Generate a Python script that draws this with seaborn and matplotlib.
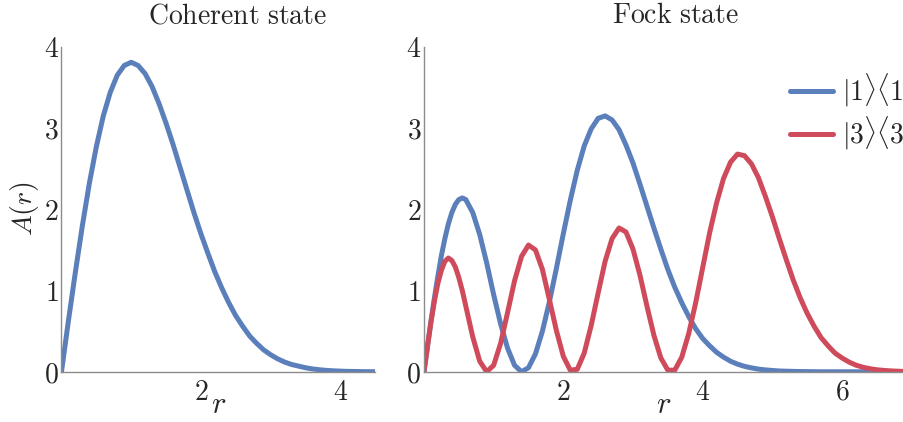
import matplotlib
matplotlib.use('Agg')
import matplotlib.pyplot as plt
import seaborn as sns

# values
r_coh = [0.0, 0.1, 0.2, 0.3, 0.4, 0.5, 0.6, 0.7, 0.8, 0.9,
         1.0, 1.1, 1.2, 1.3, 1.4, 1.5, 1.6, 1.7, 1.8, 1.9,
         2.0, 2.1, 2.2, 2.3, 2.4, 2.5, 2.6, 2.7, 2.8, 2.9,
         3.0, 3.1, 3.2, 3.3, 3.4, 3.5, 3.6, 3.7, 3.8, 3.9,
         4.0, 4.1, 4.2, 4.3, 4.4, 4.5]
a_coh = [0, 0.63, 1.23, 1.80, 2.32, 2.77, 3.15, 3.44, 3.65, 3.77,
         3.81, 3.77, 3.67, 3.51, 3.30, 3.06, 2.80, 2.52, 2.24, 1.96,
         1.70, 1.46, 1.23, 1.03, 0.85, 0.69, 0.56, 0.44, 0.35, 0.27,
         0.21, 0.16, 0.12, 0.09, 0.07, 0.05, 0.035, 0.025, 0.017, 0.012,
         0.008, 0.005, 0.004, 0.002, 0.001, 0.001]

r_fock = [0.0, 0.05, 0.1, 0.15, 0.2, 0.25, 0.3, 0.35, 0.4, 0.45, 0.5, 0.55,
          0.6, 0.7, 0.8, 0.9, 1.0, 1.1, 1.2, 1.3, 1.4, 1.5, 1.6, 1.7, 1.8, 1.9,
          2.0, 2.1, 2.2, 2.3, 2.4, 2.5, 2.6, 2.7, 2.8, 2.9,
          3.0, 3.1, 3.2, 3.3, 3.4, 3.5, 3.6, 3.7, 3.8, 3.9,
          4.0, 4.1, 4.2, 4.3, 4.4, 4.5, 4.6, 4.7, 4.8, 4.9,
          5.0, 5.1, 5.2, 5.3, 5.4, 5.5, 5.6, 5.7, 5.8, 5.9,
          6.0, 6.1, 6.2, 6.3, 6.4, 6.5, 6.6, 6.7, 6.8, 6.9]
a_fock1 = [0, 0.31, 0.62, 0.91, 1.18, 1.43, 1.64, 1.82, 1.96, 2.06, 2.12, 2.14,
           2.12, 1.96, 1.69, 1.34, 0.95, 0.59, 0.29, 0.08, 0.0, 0.05, 0.22, 0.50, 0.86, 1.27,
           1.70, 2.11, 2.48, 2.78, 2.99, 3.12, 3.15, 3.10, 2.98, 2.79,
           2.57, 2.31, 2.04, 1.77, 1.51, 1.26, 1.04, 0.85, 0.68, 0.53,
           0.41, 0.32, 0.24, 0.18, 0.13, 0.094, 0.067, 0.048, 0.033, 0.023,
           0.016, 0.010, 0.007, 0.005, 0.003, 0.002, 0.001, 0, 0, 0,
           0, 0, 0, 0, 0, 0, 0, 0, 0, 0]
a_fock3 = [0, 0.31, 0.61, 0.87, 1.09, 1.25, 1.36, 1.40, 1.37, 1.29, 1.16, 1.00,
           0.81, 0.43, 0.13, 0.0, 0.08, 0.35, 0.73, 1.12, 1.42, 1.56, 1.50, 1.26, 0.89, 0.51,
           0.19, 0.02, 0.03, 0.23, 0.57, 0.97, 1.36, 1.64, 1.77, 1.72,
           1.51, 1.19, 0.81, 0.45, 0.17, 0.02, 0.02, 0.18, 0.47, 0.85,
           1.28, 1.71, 2.08, 2.38, 2.58, 2.68, 2.66, 2.56, 2.39, 2.16,
           1.91, 1.64, 1.38, 1.13, 0.91, 0.72, 0.56, 0.42, 0.32, 0.23,
           0.17, 0.12, 0.082, 0.056, 0.038, 0.025, 0.017, 0.011, 0.007, 0.004]

titles = ['Coherent state', 'Fock state']
labels = [r'$|1\rangle\langle 1|$', r'$|3\rangle\langle 3|$']
yticks = [0, 1, 2, 3, 4]
xticks_coh = [2, 4]
xticks_fock = [2, 4, 6]

blue = '#5b7fba'
red = '#cf4b5b'
grey = '#8c8c8c'

sns.set_style('white')
plt.rcParams['font.family'] = ['DejaVu Serif']
plt.rcParams['mathtext.fontset'] = 'cm'

fig = plt.figure(figsize=(9.04, 4.22), dpi=100)
ax1 = fig.add_axes([0.068, 0.119, 0.347, 0.77])
ax2 = fig.add_axes([0.469, 0.119, 0.531, 0.77])

line_kw = dict(linewidth=3.6, solid_joinstyle='round', solid_capstyle='round')
sns.lineplot(x=r_coh, y=a_coh, ax=ax1, color=blue, **line_kw)
sns.lineplot(x=r_fock, y=a_fock1, ax=ax2, color=blue, label=labels[0], **line_kw)
sns.lineplot(x=r_fock, y=a_fock3, ax=ax2, color=red, label=labels[1], **line_kw)

for ax, xt, xmax, title, tx in [(ax1, xticks_coh, 4.5, titles[0], 0.56),
                                (ax2, xticks_fock, 6.89, titles[1], 0.523)]:
    ax.set_xlim(0, xmax)
    ax.set_ylim(0, 4)
    ax.set_xticks(xt)
    ax.set_xticklabels(['$%d$' % t for t in xt])
    ax.set_yticks(yticks)
    ax.set_yticklabels(['$%d$' % t for t in yticks])
    for s in ['top', 'right']:
        ax.spines[s].set_visible(False)
    for s in ['left', 'bottom']:
        ax.spines[s].set_color(grey)
        ax.spines[s].set_linewidth(1)
    ax.tick_params(direction='in', length=4, width=0.8, color=grey,
                   labelsize=20, pad=2)
    ax.tick_params(axis='x', pad=5)
    ax.set_xlabel('$r$', fontsize=22, labelpad=-12)
    ax.set_title(r'$\mathrm{%s}$' % title.replace(' ', r'\ '), fontsize=20, x=tx, pad=17)

ax1.set_ylabel('$A(r)$', fontsize=20, labelpad=2)

ax2.legend(loc='upper left', bbox_to_anchor=(0.7625, 0.925), frameon=False,
           fontsize=20, handlelength=1.55, handletextpad=0.32,
           borderpad=0, borderaxespad=0, labelspacing=0.18)

fig.savefig('out.png', dpi=100)
